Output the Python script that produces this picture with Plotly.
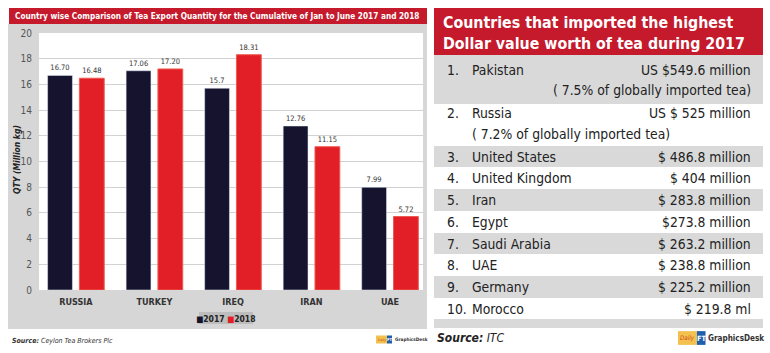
import plotly.graph_objects as go

W, H = 770, 353

# ---------------- data ----------------
countries_bar = ["RUSSIA", "TURKEY", "IREQ", "IRAN", "UAE"]
qty_2017 = [16.70, 17.06, 15.7, 12.76, 7.99]
qty_2018 = [16.48, 17.20, 18.31, 11.15, 5.72]
lbl_2017 = ["16.70", "17.06", "15.7", "12.76", "7.99"]
lbl_2018 = ["16.48", "17.20", "18.31", "11.15", "5.72"]
y_ticks = [0, 2, 4, 6, 8, 10, 12, 14, 16, 18, 20]

ranks = ["1.", "2.", "3.", "4.", "5.", "6.", "7.", "8.", "9.", "10."]
importers = ["Pakistan", "Russia", "United States", "United Kingdom", "Iran",
             "Egypt", "Saudi Arabia", "UAE", "Germany", "Morocco"]
import_values = ["US $549.6 million", "US $ 525 million", "$ 486.8 million",
                 "$ 404 million", "$ 283.8 million", "$273.8 million",
                 "$ 263.2 million", "$ 238.8 million", "$ 225.2 million",
                 "$ 219.8 ml"]
import_notes = ["( 7.5% of globally imported tea)", "( 7.2% of globally imported tea)",
                "", "", "", "", "", "", "", ""]

# ---------------- styling ----------------
NARROW = "DejaVu Sans Condensed, Liberation Sans Narrow, sans-serif"
C2017 = "#16132f"
C2018 = "#e21f26"
RED = "#c41a2b"
GRAY = "#d9d9d9"
PANEL = "#d6d6d6"


def X(px):
    return px / W


def Y(py):
    return 1 - py / H


def note(x, y, text, size, color="#222", xanchor="center", **kw):
    d = dict(x=X(x), y=Y(y), xref="paper", yref="paper", xanchor=xanchor,
             yanchor="middle", showarrow=False, text=text,
             font=dict(family=NARROW, size=size, color=color))
    d.update(kw)
    annotations.append(d)


def rect(x0, y0, x1, y1, color):
    shapes.append(dict(type="rect", xref="paper", yref="paper", x0=X(x0), x1=X(x1),
                       y0=Y(y1), y1=Y(y0), fillcolor=color, line_width=0, layer="below"))


fig = go.Figure()
fig.add_trace(go.Bar(x=countries_bar, y=qty_2017, name="2017", marker_color=C2017,
                     text=lbl_2017, textposition="outside", cliponaxis=False,
                     textfont=dict(family=NARROW, size=7.5, color="#333")))
fig.add_trace(go.Bar(x=countries_bar, y=qty_2018, name="2018", marker_color=C2018,
                     marker_line=dict(color="#ef5a50", width=1),
                     text=lbl_2018, textposition="outside", cliponaxis=False,
                     textfont=dict(family=NARROW, size=7.5, color="#333")))

shapes = []
annotations = []

# left panel background
rect(8, 24, 427, 329, PANEL)
rect(39, 33, 423, 290, "white")
# left title bar
rect(9, 8, 427, 24, RED)
note(13, 16, "<b>Country wise Comparison of Tea Export Quantity for the Cumulative of Jan to June 2017 and 2018</b>",
     8.2, color="white", xanchor="left")
# y-axis title
note(17, 160, "<b><i>QTY (Million kg)</i></b>", 8.5, textangle=-90)
# compact legend
rect(199, 312, 253, 324, "#bdbdbd")
note(226, 318.5, f"<span style='color:{C2017}'>■</span><b>2017</b> "
                 f"<span style='color:{C2018}'>■</span><b>2018</b>", 8.5)
# source left
note(10, 341, "<b><i>Source:</i></b><i> Ceylon Tea Brokers Plc</i>", 7, color="#333",
     xanchor="left")


def logo(x0, yc, scale):
    h = 8 * scale
    w1 = 11 * scale
    w2 = 5 * scale
    rect(x0, yc - h / 2, x0 + w1, yc + h / 2, "#f2c14e")
    rect(x0 + w1, yc - h / 2, x0 + w1 + w2, yc + h / 2, "#1f5fae")
    note(x0 + w1 / 2, yc, "<i>Daily</i>", 3.6 * scale, color="#d0451b")
    note(x0 + w1 + w2 / 2, yc, "<b>FT</b>", 4.2 * scale, color="white")
    note(x0 + w1 + w2 + 0.5, yc, "<b>GraphicsDesk</b>", 4.7 * scale, color="#333",
         xanchor="left")


logo(376, 339.5, 1.0)
logo(678, 338, 1.72)

# ---------------- right panel ----------------
rect(434, 8, 763, 55, RED)
note(441, 32.5, "<b>Countries that imported the highest<br>Dollar value worth of tea during 2017</b>",
     15.8, color="white", xanchor="left", align="left")

row_bounds = [(55, 104), (104, 146), (146, 167), (167, 189), (189, 211), (211, 233),
              (233, 254), (254, 276), (276, 298), (298, 319)]
row_line1 = [70, 113, 156.5, 178, 200, 222, 243.5, 265, 287, 308.5]
row_line2 = [90, 134]
FS = 13.8
for i, (r, name, val, nt) in enumerate(zip(ranks, importers, import_values, import_notes)):
    y0, y1 = row_bounds[i]
    if i % 2 == 0:
        rect(434, y0, 763, y1, GRAY)
    yc = row_line1[i]
    note(445, yc, r, FS, xanchor="left")
    note(470, yc, name, FS, xanchor="left")
    note(753, yc, val, FS, xanchor="right")
    if nt:
        if i == 0:
            note(753, row_line2[i], nt, FS, xanchor="right")
        else:
            note(470, row_line2[i], nt, FS, xanchor="left")
rect(434, 319, 763, 328, GRAY)
note(435, 338, "<b><i>Source:</i></b><i> ITC</i>", 12, xanchor="left")

fig.update_layout(
    width=W, height=H, margin=dict(l=0, r=0, t=0, b=0, autoexpand=False),
    paper_bgcolor="white", plot_bgcolor="rgba(0,0,0,0)",
    barmode="group", bargap=0.19, bargroupgap=0.22,
    showlegend=False,
    shapes=shapes, annotations=annotations,
    xaxis=dict(domain=[X(39), X(423)], range=[-0.47, 4.42], showgrid=False,
               showline=False, ticks="", ticklabelstandoff=5, automargin=False,
               tickfont=dict(family=NARROW, size=9, color="#333", weight="bold")),
    yaxis=dict(domain=[Y(290), Y(33)], range=[0, 20], tickvals=y_ticks,
               showgrid=True, gridcolor="#d2d2d2", gridwidth=1, zeroline=False,
               showline=False, ticks="", ticklabelstandoff=6, automargin=False,
               tickfont=dict(family=NARROW, size=10, color="#555")),
    font=dict(family=NARROW),
)

fig.write_html("out.html")
